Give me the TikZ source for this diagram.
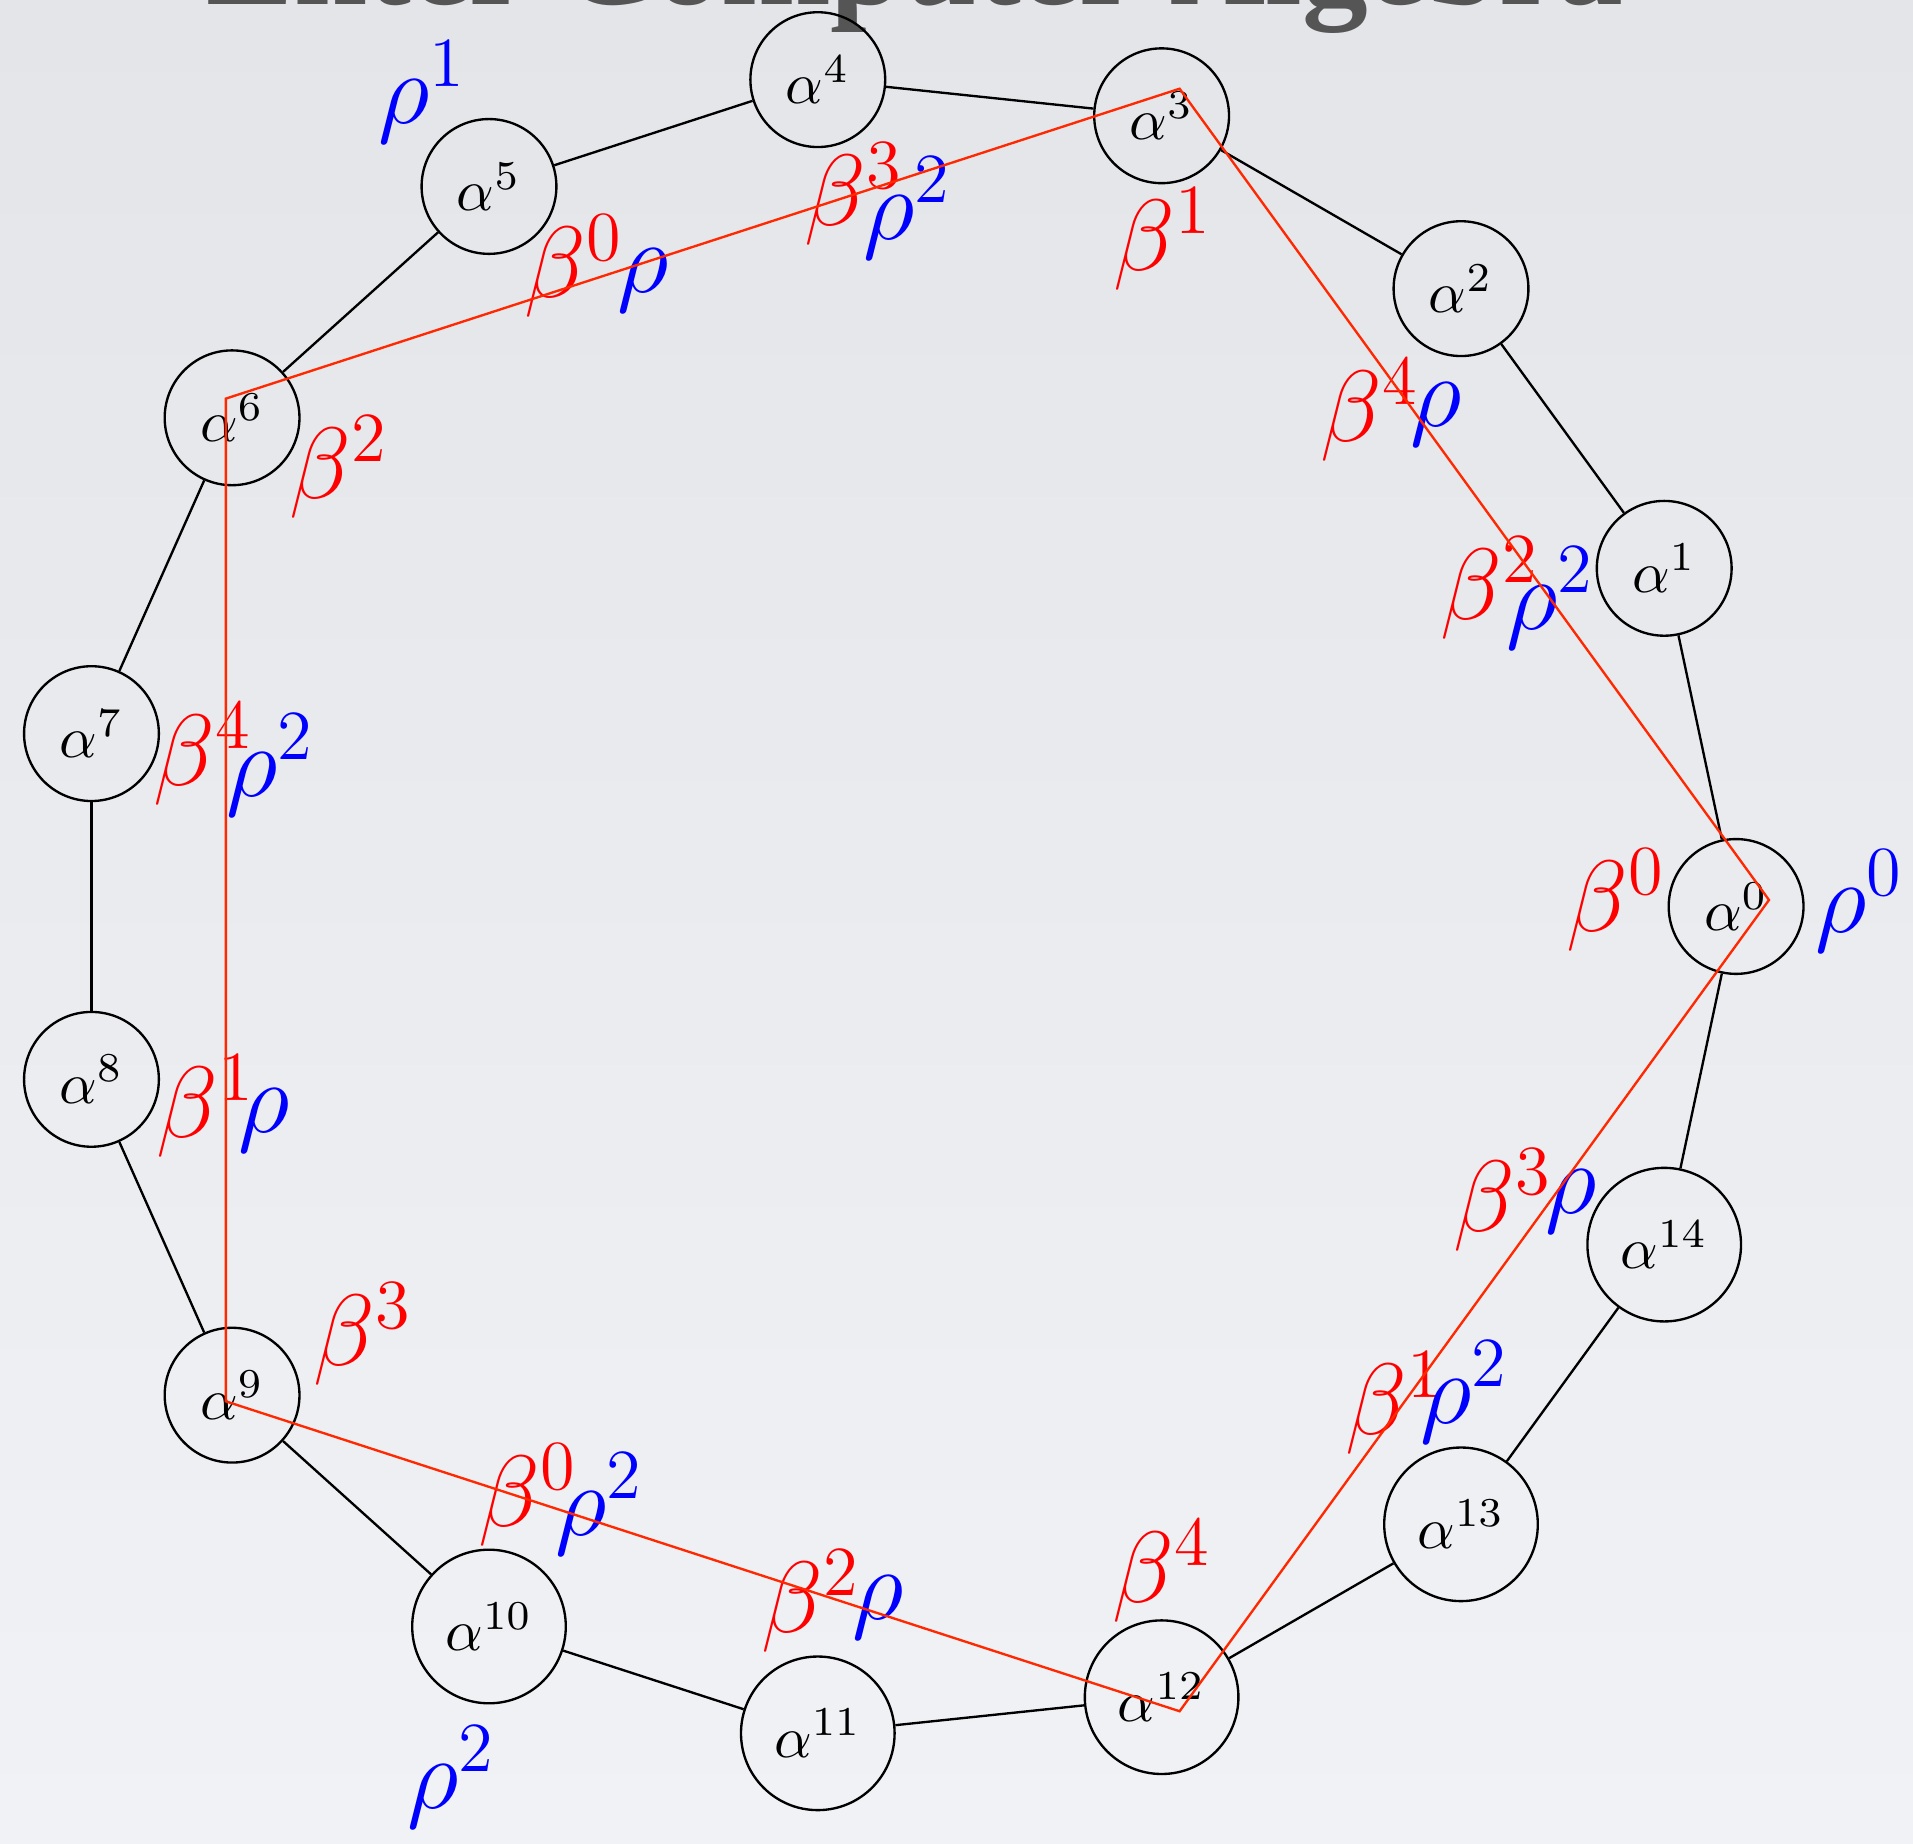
\documentclass[tikz,border=0pt]{standalone}
\usepackage{fontspec}
\newfontfamily\titlefont{Liberation Serif}
\usetikzlibrary{calc}
\definecolor{bgtop}{RGB}{227,229,233}
\definecolor{bgbot}{RGB}{241,242,245}
\definecolor{titlegray}{RGB}{85,85,85}
\definecolor{cyclered}{RGB}{255,40,0}
\begin{document}
\begin{tikzpicture}[x=0.1704pt,y=-0.1704pt,
  elem/.style={circle,draw,line width=0.4pt},
  blab/.style={text=red,font=\LARGE,inner sep=0pt},
  rlab/.style={text=blue,font=\LARGE,inner sep=0pt},
  ring/.style={line width=0.4pt},
  cycle5/.style={draw=cyclered,line width=0.4pt}]
\useasboundingbox (0,0) rectangle (1913,1844);
\clip (0,0) rectangle (1913,1844);
\shade[top color=bgtop,bottom color=bgbot] (0,0) rectangle (1913,1844);

% slide heading, partly above the frame
\node[font=\titlefont\bfseries\fontsize{22.4}{26}\selectfont,text=titlegray,anchor=base,inner sep=0pt]
  (title) at (915,5) {Enter Computer Algebra};

% the fifteen powers of alpha on a circle
\foreach \i in {0,...,14}
  \node[elem] (a\i) at ($(904.7,906.5)+(-24*\i:831.4)$) {$\alpha^{\i}$};
\foreach \i [evaluate=\i as \j using {int(mod(\i+1,15))}] in {0,...,14}
  \draw[ring] (a\i) -- (a\j);

% beta and rho labels
\node[blab] (l5b) at (574.5,266) {$\beta^0$};
\node[rlab] (l5r) at (643.5,281) {$\rho$};
\node[rlab] (l5o) at (423,92) {$\rho^1$};
\node[blab] (l4b) at (854,194) {$\beta^3$};
\node[rlab] (l4r) at (908,208) {$\rho^2$};
\node[blab] (l3b) at (1163,239) {$\beta^1$};
\node[blab] (l2b) at (1370,410) {$\beta^4$};
\node[rlab] (l2r) at (1436,415) {$\rho$};
\node[blab] (l1b) at (1490,588) {$\beta^2$};
\node[rlab] (l1r) at (1551,598) {$\rho^2$};
\node[blab] (l0b) at (1616.5,900) {$\beta^0$};
\node[rlab] (l0r) at (1860,901) {$\rho^0$};
\node[blab] (l14b) at (1503,1200) {$\beta^3$};
\node[rlab] (l14r) at (1571,1202) {$\rho$};
\node[blab] (l13b) at (1395,1403) {$\beta^1$};
\node[rlab] (l13r) at (1465,1392) {$\rho^2$};
\node[blab] (l12b) at (1162,1571) {$\beta^4$};
\node[blab] (l11b) at (811,1601) {$\beta^2$};
\node[rlab] (l11r) at (878,1608) {$\rho$};
\node[blab] (l10b) at (528.5,1495) {$\beta^0$};
\node[rlab] (l10r) at (600,1504) {$\rho^2$};
\node[rlab] (l10o) at (451.5,1777) {$\rho^2$};
\node[blab] (l9b) at (363.5,1334.5) {$\beta^3$};
\node[blab] (l8b) at (206,1106.5) {$\beta^1$};
\node[rlab] (l8r) at (264,1121) {$\rho$};
\node[blab] (l7b) at (203.5,754) {$\beta^4$};
\node[rlab] (l7r) at (270.5,765) {$\rho^2$};
\node[blab] (l6b) at (339.5,467.5) {$\beta^2$};

% the pentagon through every third power
\foreach \k in {0,...,4}
  \coordinate (p\k) at ($(916,900)+(-72*\k:853)$);
\draw[cycle5] (p0) -- (p1) -- (p2) -- (p3) -- (p4) -- cycle;
\end{tikzpicture}
\end{document}
